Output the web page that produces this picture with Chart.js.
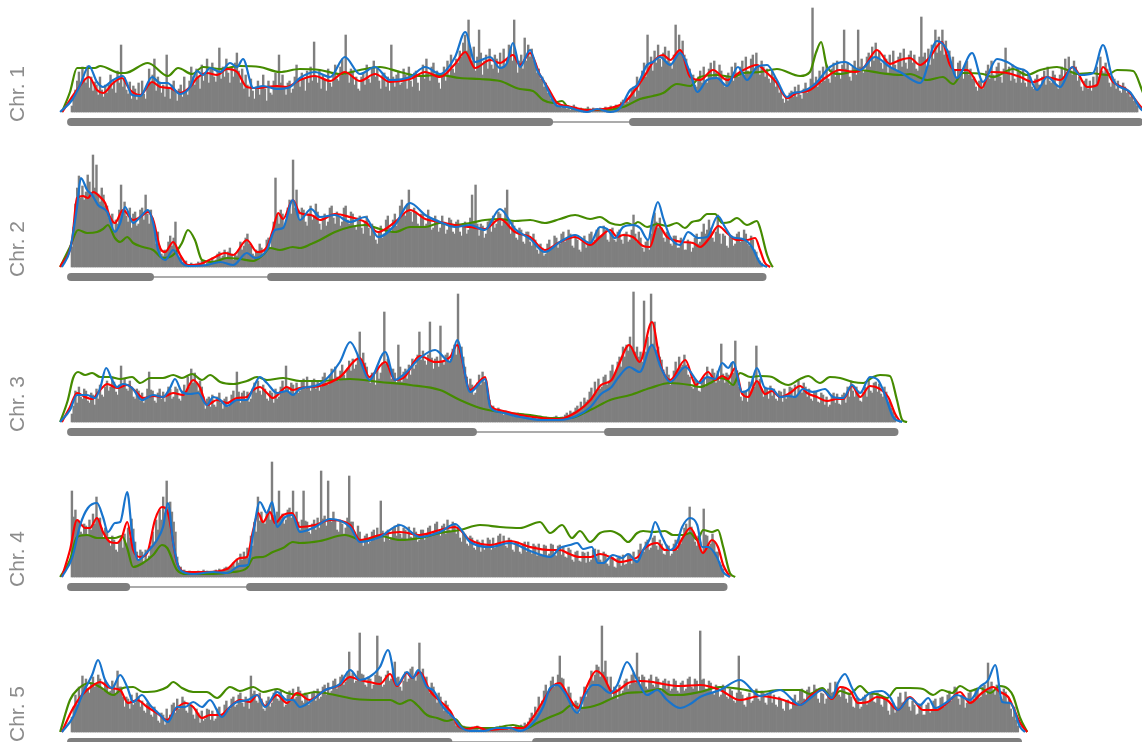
<!DOCTYPE html>
<html>
<head>
<meta charset="utf-8">
<script src="https://cdn.jsdelivr.net/npm/chart.js@4.4.1/dist/chart.umd.min.js"></script>
<style>
  html, body { margin: 0; padding: 0; background: #ffffff; overflow: hidden; }
  #wrap { position: relative; width: 1142px; height: 742px; overflow: hidden; background: #ffffff; }
  #wrap canvas { position: absolute; left: 0; }
</style>
</head>
<body>
<div id="wrap"></div>
<script>
// ---- Chromosome metadata (Mb) ----
const chromNames   = ['Chr. 1', 'Chr. 2', 'Chr. 3', 'Chr. 4', 'Chr. 5'];
const chromLengths = [30.43, 19.70, 23.46, 18.59, 26.98];
const centromeres  = [[13.62, 16.01], [2.25, 5.70], [11.45, 15.30], [1.57, 5.10], [10.75, 13.25]];
const binSizeMb = 0.05;

// ---- Marker counts per 50 kb bin (20 bins per Mb per row) ----
const chr1Bins = [
  6,14,22,31,40,27,45,33,29,46,24,35,21,30,27,17,35,22,15,27,
  19,27,37,23,31,19,41,29,67,25,34,22,18,30,13,26,23,12,29,17,
  31,18,13,27,43,29,37,53,21,35,30,19,27,15,57,24,13,27,31,20,
  11,23,27,15,35,21,17,31,45,35,27,43,35,23,47,31,39,53,29,43,
  49,35,30,41,64,33,45,35,53,39,29,45,35,49,59,41,29,43,23,37,
  27,15,33,21,13,25,31,17,25,37,23,11,31,19,17,31,39,25,57,29,
  37,23,17,29,31,19,23,35,47,33,25,39,33,21,41,29,45,31,70,35,
  29,41,23,37,33,21,43,29,25,39,47,33,31,45,53,37,77,39,29,43,
  41,27,35,23,21,35,39,27,47,33,29,43,51,35,43,31,23,37,39,25,
  35,21,67,35,25,37,41,27,29,43,37,23,45,31,25,39,41,29,21,35,
  47,33,53,39,31,45,49,35,41,29,23,37,45,31,51,37,57,43,39,53,
  49,61,55,69,77,61,92,63,51,65,41,55,82,59,37,51,57,43,63,47,
  43,57,53,39,59,45,63,47,53,67,65,51,92,57,39,51,57,43,74,51,
  67,55,63,51,49,39,43,33,35,25,29,19,21,13,15,9,10,6,8,4,
  6,4,3,5,2,4,7,5,2,1,4,2,1,3,5,3,2,4,3,1,
  2,4,3,1,5,3,4,6,2,4,7,5,6,10,12,8,14,10,16,22,
  25,15,35,21,29,41,49,35,77,43,55,41,61,49,67,53,45,59,65,51,
  61,49,43,57,87,59,77,61,71,57,53,43,43,33,37,27,25,35,41,29,
  45,31,29,43,49,35,51,39,33,47,41,29,25,35,39,29,45,31,49,35,
  35,45,51,37,55,41,39,53,57,43,59,45,37,51,45,35,43,33,29,41,
  35,25,29,19,23,13,9,15,11,19,21,15,25,15,27,17,13,23,29,19,
  23,33,104,29,35,25,41,29,45,31,47,33,29,43,49,35,51,39,33,47,
  82,43,49,35,31,45,51,37,82,45,53,39,41,55,59,45,65,51,69,55,
  61,49,43,57,53,39,57,43,61,47,41,55,59,45,63,49,43,57,61,49,
  57,43,41,55,95,55,59,45,63,47,67,53,82,59,75,61,82,57,71,57,
  61,49,55,41,35,49,51,39,33,47,51,37,43,33,35,25,21,31,33,23,
  29,41,47,33,51,37,31,45,49,35,29,43,64,39,45,31,47,33,29,43,
  39,29,43,29,25,39,35,25,23,33,37,27,25,35,41,27,45,31,29,41,
  37,27,23,37,45,35,53,39,55,41,37,51,45,31,35,25,21,31,33,23,
  31,21,35,25,45,35,55,41,39,49,43,29,25,35,33,23,31,21,19,29,
  25,19,21,15,17,11,10,6
];
const chr2Bins = [
  20,40,63,79,91,69,81,67,75,92,85,71,112,79,102,73,65,79,72,61,
  61,49,43,53,37,47,43,57,82,57,65,51,45,59,39,53,55,41,43,57,
  59,47,72,53,43,57,49,37,23,35,21,13,11,17,15,25,31,21,29,45,
  19,9,11,5,3,6,2,1,4,2,1,3,5,3,6,4,2,4,7,5,
  9,6,7,13,15,9,11,17,9,15,19,13,7,13,11,17,25,17,21,29,
  33,23,21,13,11,17,15,23,19,11,17,27,29,19,33,45,89,53,43,57,
  53,41,47,59,67,53,107,59,77,57,47,59,57,45,41,53,61,47,51,63,
  55,43,37,49,53,41,45,59,61,49,43,55,51,41,45,59,61,47,43,55,
  53,41,37,49,51,39,33,45,51,39,31,43,39,27,23,35,41,29,33,47,
  51,39,35,47,53,41,47,61,67,53,51,63,77,55,45,59,55,43,41,53,
  53,41,43,57,49,37,39,51,47,35,39,51,45,33,37,49,47,35,33,45,
  47,35,31,43,45,33,37,49,72,45,82,43,31,43,41,29,33,45,47,35,
  51,39,43,55,53,41,45,59,77,47,33,45,41,29,27,39,37,25,23,35,
  35,25,21,33,27,17,13,23,19,11,13,23,27,17,19,31,29,19,23,33,
  35,25,27,37,33,21,19,29,27,17,15,25,31,19,23,33,35,25,27,37,
  39,29,31,41,37,27,25,35,39,27,25,35,37,27,23,33,35,25,27,37,
  52,33,25,35,29,19,15,25,27,17,33,43,54,45,39,49,39,29,25,35,
  33,23,21,31,31,19,19,29,27,17,17,27,25,15,19,29,33,23,25,35,
  43,33,37,47,39,29,25,35,52,33,23,33,31,21,19,31,31,21,23,33,
  35,25,27,37,33,23,21,31,27,17,15,9,6,4
];
const chr3Bins = [
  8,16,31,19,35,25,23,33,31,21,19,29,27,17,33,23,37,27,25,35,
  41,31,35,45,40,30,27,37,56,36,43,33,31,41,35,25,23,33,31,21,
  29,19,23,33,50,32,31,21,19,29,33,23,30,20,25,35,33,23,25,35,
  33,23,21,31,37,27,45,35,53,39,49,39,31,41,35,25,13,23,25,15,
  27,17,15,25,29,19,13,23,25,15,17,27,31,21,50,30,19,29,31,21,
  30,20,23,33,39,29,41,31,27,37,33,23,21,31,29,19,33,23,25,35,
  41,31,56,34,29,39,37,27,39,29,31,41,43,33,45,35,31,41,43,33,
  41,31,35,45,49,39,37,47,53,43,55,45,41,51,57,47,43,53,61,51,
  63,53,57,67,90,62,69,59,55,45,39,49,47,37,53,43,49,59,110,58,
  63,53,43,53,49,39,77,55,40,50,53,43,57,47,63,53,57,67,90,62,
  71,61,57,67,100,64,53,63,65,55,96,60,57,67,69,59,63,73,77,67,
  128,72,75,65,55,45,33,43,37,27,29,39,47,37,50,40,41,31,22,12,
  16,12,10,14,12,8,7,11,9,7,6,8,5,7,9,7,6,8,7,5,
  6,4,3,5,5,3,4,6,2,4,5,3,4,2,3,5,6,4,3,5,
  5,7,9,7,11,9,10,14,16,12,20,16,24,20,22,30,34,26,40,30,
  43,33,35,45,47,37,41,51,57,47,50,60,65,55,75,65,77,71,85,75,
  130,70,75,65,70,60,121,70,85,75,128,78,100,72,75,65,62,52,45,55,
  47,37,41,51,60,50,65,55,57,67,57,47,45,35,33,43,41,31,30,40,
  45,35,55,45,43,53,49,39,51,41,78,48,39,49,47,37,59,49,81,51,
  35,25,21,31,30,20,40,30,45,35,76,40,43,33,25,35,33,23,36,26,
  33,23,21,31,30,20,33,23,25,35,34,24,37,27,41,31,29,39,35,25,
  33,23,21,31,30,20,19,29,27,17,25,15,17,27,29,19,28,18,17,27,
  29,19,35,25,41,31,25,35,31,21,20,30,35,25,41,31,29,39,40,30,
  38,28,25,35,30,20,22,14,10,6
];
const chr4Bins = [
  86,60,67,57,55,45,43,53,51,41,57,47,63,53,80,58,59,49,39,49,
  45,35,31,41,37,27,25,35,39,29,43,33,49,39,58,48,35,25,17,27,
  25,15,27,17,21,31,45,35,57,47,67,57,80,64,96,70,75,65,55,45,
  20,10,10,6,7,5,4,6,5,3,3,5,6,4,5,7,4,6,5,3,
  4,6,7,5,8,6,7,9,10,8,9,11,14,10,18,14,23,17,25,19,
  29,19,41,31,55,45,80,56,65,55,53,63,67,57,115,62,55,65,86,58,
  63,53,57,67,69,59,86,60,65,55,47,57,86,56,55,45,43,53,57,47,
  59,49,106,58,61,51,96,58,55,65,57,47,45,55,53,43,49,59,101,55,
  55,45,41,51,45,35,31,41,43,33,35,45,47,37,49,39,76,46,35,45,
  47,37,39,49,51,41,53,43,39,49,47,37,50,40,39,49,45,35,37,47,
  47,37,39,49,51,41,43,53,55,45,41,51,53,43,57,47,45,55,53,43,
  49,39,35,45,43,33,31,41,39,29,27,37,35,25,37,27,29,39,37,27,
  39,29,31,41,43,33,41,31,29,39,37,27,25,35,35,25,23,33,35,25,
  35,25,23,33,31,21,33,23,22,32,31,21,23,33,32,22,21,31,32,22,
  30,20,19,29,27,17,15,25,26,16,15,25,24,14,25,15,17,27,28,18,
  27,17,15,25,23,13,11,21,20,10,9,19,21,11,22,12,13,23,23,13,
  25,15,17,27,33,23,25,35,37,27,29,39,41,31,27,37,33,23,22,32,
  31,21,23,33,37,27,43,33,39,49,53,43,70,50,45,35,31,41,35,25,
  68,42,41,31,33,43,35,25,25,15,12,8
];
const chr5Bins = [
  15,25,37,27,45,35,56,46,53,43,39,49,55,45,47,57,53,43,41,51,
  49,39,41,51,47,37,61,45,45,35,25,35,33,23,37,27,29,39,35,25,
  31,21,19,29,27,17,15,25,21,11,9,19,17,7,23,13,17,27,29,19,
  33,23,25,35,31,21,19,29,27,17,13,23,19,9,21,11,13,23,22,12,
  21,11,13,23,25,15,17,27,31,21,23,33,35,25,27,37,39,29,25,35,
  33,23,56,38,41,31,29,39,33,23,21,31,35,25,29,39,43,33,31,41,
  35,25,27,37,41,31,43,33,35,45,41,31,29,39,37,27,29,39,41,31,
  43,33,35,45,47,37,49,39,41,51,53,43,45,55,57,47,50,60,80,56,
  59,49,51,61,99,58,57,47,45,55,53,43,47,57,96,56,55,45,47,57,
  61,51,53,63,70,54,55,45,41,51,60,50,53,63,65,55,51,61,89,58,
  63,53,55,45,39,49,45,35,29,39,35,25,21,31,27,17,19,13,10,6,
  7,5,4,6,5,3,2,4,5,3,4,6,2,4,3,1,4,2,2,4,
  2,4,5,3,6,4,3,5,4,2,5,3,4,6,3,5,7,5,9,7,
  10,14,19,13,25,19,35,25,31,41,47,37,41,51,55,45,47,57,76,54,
  53,43,35,45,39,29,21,31,29,19,35,25,45,35,41,51,61,51,57,67,
  65,55,106,60,71,55,45,55,35,45,43,33,47,37,41,51,53,43,47,57,
  59,49,79,55,47,57,55,45,43,53,57,47,45,55,53,43,41,51,53,43,
  51,41,43,53,51,41,39,49,51,41,43,53,55,45,43,53,51,41,101,52,
  53,43,41,51,49,39,37,47,45,35,37,47,45,35,33,43,41,31,29,39,
  76,40,37,27,25,35,39,29,31,41,43,33,31,41,39,29,27,37,39,29,
  37,27,25,35,33,23,21,31,32,22,23,33,37,27,31,41,43,33,32,42,
  45,35,37,47,43,33,29,39,38,28,33,43,49,39,40,50,47,37,35,45,
  43,33,29,39,35,25,24,34,33,23,25,35,37,27,29,39,40,30,29,39,
  37,27,25,35,31,21,17,27,29,19,25,35,39,29,30,40,35,25,21,31,
  27,17,18,28,27,17,17,27,29,19,21,31,33,23,24,34,35,25,27,37,
  41,31,35,45,43,33,27,37,34,24,29,39,41,31,33,43,44,34,35,45,
  47,37,69,45,50,40,37,47,45,35,33,43,40,30,33,23,15,25,12,6
];

// ---- Smoothed density tracks: [position Mb, density] ----
const chr1Red = [[-0.25,0],[0.17,22],[0.51,35],[0.74,22],[0.91,19],[1.2,29],[1.45,34],[1.68,22],[1.97,17],[2.31,30],[2.54,25],[2.82,24],[3.11,19],[3.39,25],[3.59,34],[3.87,39],[4.16,37],[4.44,43],[4.73,40],[5.01,25],[5.3,24],[5.58,25],[5.87,26],[6.15,25],[6.52,32],[6.95,36],[7.38,31],[7.8,40],[8.23,31],[8.66,38],[9.09,30],[9.66,33],[10.09,40],[10.51,35],[10.94,48],[11.23,60],[11.51,44],[11.94,52],[12.22,49],[12.59,57],[12.79,47],[13.08,59],[13.36,37],[13.59,24],[13.85,9],[14.13,6],[14.7,2],[15.36,4],[15.64,7],[15.84,12],[16.13,25],[16.41,40],[16.58,50],[16.87,57],[17.07,52],[17.35,62],[17.64,35],[17.92,32],[18.29,42],[18.69,32],[19.06,40],[19.54,47],[19.83,39],[20.11,29],[20.4,14],[20.68,19],[21.05,22],[21.48,34],[21.9,42],[22.34,40],[22.6,45],[22.96,62],[23.33,48],[23.62,52],[23.9,54],[24.19,47],[24.47,55],[24.81,70],[25.04,47],[25.18,42],[25.53,42],[25.95,24],[26.18,40],[26.67,39],[27.04,35],[27.41,30],[27.81,35],[28.18,32],[28.55,45],[28.95,25],[29.23,27],[29.4,45],[29.69,30],[30.09,22],[30.26,15],[30.51,4],[30.74,0]];
const chr1Blue = [[-0.31,0],[0.03,12],[0.26,27],[0.51,46],[0.74,30],[0.91,25],[1.2,32],[1.48,36],[1.74,17],[1.97,16],[2.31,35],[2.54,29],[2.74,29],[3.11,18],[3.39,25],[3.59,41],[3.76,37],[3.96,44],[4.25,40],[4.53,49],[4.73,45],[4.9,53],[5.19,24],[5.47,26],[5.87,23],[6.24,25],[6.52,34],[6.95,40],[7.38,35],[7.8,55],[8.23,38],[8.66,45],[9.09,32],[9.66,35],[10.09,45],[10.51,38],[10.94,55],[11.23,80],[11.51,50],[11.94,55],[12.22,44],[12.42,49],[12.59,69],[12.79,45],[13.08,62],[13.28,42],[13.45,32],[13.65,17],[13.85,6],[14.13,5],[14.42,2],[14.7,0],[14.99,3],[15.36,0],[15.64,4],[15.93,22],[16.13,27],[16.41,47],[16.58,50],[16.78,55],[17.07,47],[17.35,59],[17.64,39],[17.84,20],[18.12,32],[18.4,34],[18.69,26],[19.0,45],[19.26,32],[19.54,45],[19.83,47],[20.11,32],[20.4,15],[20.57,19],[20.77,20],[21.2,28],[21.62,45],[22.05,50],[22.48,42],[22.9,55],[23.33,45],[23.62,40],[24.19,29],[24.67,71],[24.96,62],[25.24,34],[25.67,59],[25.98,30],[26.38,53],[26.67,50],[26.95,44],[27.24,40],[27.52,22],[27.81,35],[28.18,25],[28.52,45],[28.75,37],[29.12,39],[29.4,67],[29.69,32],[30.17,20],[30.51,2],[30.74,0]];
const chr1Green = [[-0.26,0],[-0.03,20],[0.17,44],[0.68,44],[0.83,46],[1.4,39],[1.54,39],[2.19,49],[2.76,36],[3.05,44],[3.45,38],[3.76,45],[4.25,43],[4.81,46],[5.38,45],[5.95,40],[6.52,43],[7.09,42],[7.66,38],[8.23,42],[8.8,45],[9.37,40],[9.94,36],[10.51,37],[11.08,34],[11.65,33],[12.22,31],[12.79,23],[13.16,21],[13.45,12],[13.73,9],[13.99,11],[14.13,6],[14.42,3],[15.07,2],[15.73,5],[16.21,13],[16.58,16],[16.87,19],[17.26,28],[17.64,26],[17.92,35],[18.4,37],[18.86,35],[19.15,39],[19.63,40],[20.11,43],[20.77,36],[21.05,40],[21.23,60],[21.37,70],[21.54,45],[21.9,38],[22.48,42],[23.05,39],[23.62,37],[23.9,38],[24.39,32],[24.84,35],[25.13,28],[25.41,39],[25.98,38],[26.27,35],[26.84,43],[27.24,37],[27.61,42],[28.09,45],[28.38,42],[28.66,38],[29.03,39],[29.52,37],[29.8,42],[30.26,41],[30.51,22],[30.74,0]];

const chr2Red = [[-0.31,0],[0.03,27],[0.17,69],[0.34,71],[0.48,69],[0.63,75],[0.83,70],[0.97,64],[1.11,50],[1.25,44],[1.48,57],[1.77,47],[1.97,50],[2.19,55],[2.34,47],[2.54,19],[2.68,15],[2.91,25],[3.11,12],[3.33,2],[3.68,3],[4.05,9],[4.39,14],[4.62,12],[5.01,27],[5.3,15],[5.58,20],[5.75,37],[5.9,54],[6.04,48],[6.32,67],[6.52,54],[6.84,52],[7.09,47],[7.52,53],[7.95,50],[8.38,45],[8.75,35],[9.23,45],[9.66,57],[10.09,48],[10.51,45],[10.94,42],[11.37,40],[11.79,38],[12.22,48],[12.65,35],[13.08,30],[13.5,17],[13.93,25],[14.36,30],[14.79,22],[15.07,30],[15.36,37],[15.56,30],[15.73,32],[16.01,30],[16.3,21],[16.49,20],[16.72,42],[16.98,30],[17.15,27],[17.43,25],[17.72,24],[17.92,20],[18.21,30],[18.44,41],[18.69,34],[18.97,27],[19.26,27],[19.49,29],[19.63,17],[19.77,4],[19.92,0]];
const chr2Blue = [[-0.26,0],[-0.03,17],[0.17,60],[0.28,89],[0.46,77],[0.6,72],[0.77,62],[1.03,55],[1.25,35],[1.4,44],[1.54,60],[1.77,44],[1.97,50],[2.19,57],[2.34,44],[2.48,17],[2.68,7],[2.91,17],[3.16,4],[3.33,1],[3.87,2],[4.25,5],[4.62,2],[5.01,14],[5.24,9],[5.58,17],[5.81,37],[6.04,39],[6.32,67],[6.52,47],[6.84,58],[7.09,50],[7.52,52],[7.95,45],[8.38,50],[8.75,30],[9.23,42],[9.66,64],[10.09,52],[10.51,45],[10.94,40],[11.37,42],[11.79,37],[12.22,58],[12.65,38],[13.08,28],[13.5,15],[13.93,25],[14.36,32],[14.79,24],[15.07,40],[15.27,38],[15.5,29],[15.73,40],[16.01,42],[16.21,39],[16.44,27],[16.58,50],[16.72,65],[16.87,49],[17.07,30],[17.35,22],[17.58,35],[17.86,29],[18.12,30],[18.43,51],[18.63,40],[18.83,30],[19.14,28],[19.4,20],[19.63,4],[19.83,0]];
const chr2Green = [[-0.31,0],[-0.03,20],[0.2,37],[0.46,34],[0.74,35],[0.91,38],[1.05,42],[1.25,29],[1.4,25],[1.6,30],[1.77,24],[2.05,20],[2.34,17],[2.62,9],[2.91,12],[3.16,24],[3.33,37],[3.53,27],[3.73,7],[4.05,5],[4.44,9],[4.81,8],[5.19,6],[5.47,12],[5.67,19],[5.95,17],[6.32,20],[6.52,19],[6.84,23],[7.09,27],[7.52,35],[7.95,40],[8.38,42],[8.8,38],[9.23,35],[9.66,40],[10.09,40],[10.51,44],[10.94,42],[11.37,44],[11.79,47],[12.22,48],[12.65,46],[13.08,47],[13.5,44],[13.93,48],[14.36,52],[14.79,48],[15.07,50],[15.36,44],[15.64,42],[15.84,44],[16.01,42],[16.15,45],[16.41,40],[16.7,43],[16.98,41],[17.26,44],[17.49,39],[17.69,45],[17.92,47],[18.12,53],[18.35,53],[18.55,44],[18.77,45],[18.97,49],[19.26,42],[19.54,46],[19.63,39],[19.83,12],[19.97,1],[20.0,0]];

const chr3Red = [[-0.26,0],[-0.03,15],[0.17,29],[0.4,25],[0.6,23],[0.83,32],[1.03,38],[1.31,34],[1.6,37],[1.88,29],[2.05,24],[2.34,26],[2.62,25],[2.91,29],[3.19,27],[3.48,42],[3.68,34],[3.87,17],[4.16,22],[4.44,19],[4.73,24],[5.01,25],[5.19,32],[5.38,35],[5.58,29],[5.75,24],[6.15,35],[6.32,32],[6.52,34],[7.09,36],[7.66,45],[8.23,64],[8.5,45],[8.95,60],[9.23,42],[9.5,45],[9.94,66],[10.37,60],[10.8,65],[11.0,77],[11.37,32],[11.8,45],[11.94,17],[12.2,12],[12.8,7],[13.4,4],[13.9,3],[14.4,10],[14.8,22],[15.1,37],[15.4,42],[15.6,57],[15.9,77],[16.2,60],[16.55,100],[16.8,57],[17.07,42],[17.5,62],[17.8,37],[18.15,50],[18.35,42],[18.55,46],[18.72,43],[18.92,54],[19.12,28],[19.29,25],[19.54,41],[19.77,28],[19.97,31],[20.2,25],[20.48,29],[20.77,36],[20.97,29],[21.25,25],[21.54,21],[21.82,23],[22.0,23],[22.25,36],[22.48,25],[22.76,36],[23.05,33],[23.28,25],[23.48,8],[23.62,0]];
const chr3Blue = [[-0.31,0],[-0.03,12],[0.17,27],[0.46,27],[0.68,24],[0.83,34],[1.0,54],[1.17,42],[1.31,35],[1.48,38],[1.74,34],[2.02,22],[2.34,27],[2.62,25],[2.82,34],[2.96,43],[3.16,30],[3.39,28],[3.62,29],[3.87,17],[4.05,25],[4.25,22],[4.44,16],[4.73,22],[5.01,22],[5.19,34],[5.38,45],[5.58,39],[5.87,29],[6.15,31],[6.32,27],[6.52,33],[7.09,38],[7.66,60],[7.95,80],[8.23,62],[8.5,42],[8.95,70],[9.23,42],[9.5,48],[9.94,64],[10.37,72],[10.8,60],[11.0,82],[11.37,30],[11.8,43],[11.94,15],[12.2,10],[12.8,5],[13.4,2],[13.9,2],[14.4,6],[14.8,15],[15.1,28],[15.4,35],[15.6,45],[15.9,55],[16.2,50],[16.55,77],[16.8,55],[17.07,40],[17.5,55],[17.92,39],[18.12,45],[18.35,43],[18.55,59],[18.72,54],[18.86,60],[19.12,30],[19.35,35],[19.54,54],[19.77,34],[19.97,33],[20.2,25],[20.43,26],[20.63,25],[20.85,33],[21.14,30],[21.48,33],[21.71,25],[22.0,24],[22.25,37],[22.48,29],[22.76,45],[22.99,42],[23.19,27],[23.42,5],[23.68,0]];
const chr3Green = [[-0.31,0],[-0.09,22],[0.06,44],[0.2,50],[0.4,47],[0.6,49],[0.83,45],[1.11,45],[1.4,43],[1.74,45],[1.97,39],[2.25,44],[2.62,44],[2.91,47],[3.16,44],[3.45,48],[3.73,42],[3.96,47],[4.25,40],[4.62,38],[5.01,41],[5.3,45],[5.58,42],[6.04,44],[6.52,41],[7.09,41],[7.95,43],[8.8,40],[9.66,37],[10.51,32],[11.08,22],[11.65,14],[12.22,10],[13.08,7],[13.65,4],[14.22,4],[14.79,12],[15.36,22],[15.93,27],[16.5,34],[17.07,39],[17.64,37],[17.92,35],[18.21,39],[18.49,44],[18.69,42],[18.86,37],[19.06,49],[19.35,45],[19.63,46],[19.97,45],[20.2,40],[20.43,37],[20.77,43],[21.0,46],[21.34,39],[21.62,45],[21.91,44],[22.28,40],[22.57,39],[22.85,45],[23.05,47],[23.33,46],[23.53,22],[23.68,2],[23.82,0]];

const chr4Red = [[-0.26,0],[-0.03,27],[0.17,57],[0.4,49],[0.54,49],[0.74,59],[0.91,45],[1.11,35],[1.31,34],[1.45,40],[1.6,55],[1.77,27],[1.97,20],[2.17,24],[2.39,57],[2.59,70],[2.76,64],[3.02,14],[3.3,5],[3.87,5],[4.44,8],[4.81,19],[5.01,20],[5.19,47],[5.33,64],[5.47,55],[5.67,65],[5.81,54],[6.04,62],[6.3,64],[6.52,50],[6.95,52],[7.38,57],[7.95,52],[8.23,37],[8.8,42],[9.37,45],[9.94,42],[10.51,47],[10.94,50],[11.37,37],[11.94,32],[12.5,36],[13.08,30],[13.65,27],[13.93,27],[14.2,23],[14.5,20],[14.8,20],[15.07,23],[15.36,20],[15.64,15],[15.93,17],[16.15,20],[16.35,29],[16.7,34],[16.92,27],[17.2,27],[17.44,40],[17.64,49],[17.84,37],[18.0,24],[18.26,37],[18.43,30],[18.58,12],[18.77,0]];
const chr4Blue = [[-0.26,0],[0.03,19],[0.26,52],[0.48,69],[0.74,74],[0.91,60],[1.05,45],[1.25,54],[1.4,55],[1.6,85],[1.74,44],[1.91,17],[2.17,25],[2.45,37],[2.62,50],[2.76,74],[2.91,34],[3.11,7],[3.48,3],[4.05,5],[4.44,4],[4.81,11],[5.04,12],[5.19,44],[5.38,75],[5.58,64],[5.73,75],[5.87,50],[6.1,60],[6.3,62],[6.52,45],[6.95,50],[7.38,58],[7.95,50],[8.23,35],[8.8,40],[9.37,52],[9.94,40],[10.51,45],[10.94,53],[11.37,35],[11.94,30],[12.5,34],[13.08,26],[13.65,20],[13.93,29],[14.22,32],[14.42,34],[14.59,28],[14.84,30],[15.01,14],[15.16,14],[15.44,22],[15.7,19],[15.87,23],[16.13,15],[16.3,27],[16.5,39],[16.64,55],[16.84,40],[17.07,27],[17.26,34],[17.41,50],[17.64,59],[17.84,52],[17.98,30],[18.15,30],[18.4,20],[18.58,5],[18.77,0]];
const chr4Green = [[-0.31,0],[-0.03,17],[0.17,40],[0.46,42],[0.74,39],[1.03,39],[1.25,39],[1.45,41],[1.6,29],[1.77,10],[2.05,14],[2.34,22],[2.59,32],[2.74,29],[3.02,7],[3.3,3],[4.05,3],[4.62,5],[5.01,9],[5.19,19],[5.47,20],[5.75,25],[6.04,29],[6.32,35],[6.52,34],[7.09,36],[7.8,42],[8.37,36],[8.8,41],[9.37,37],[9.94,39],[10.51,44],[11.08,47],[11.65,52],[12.22,50],[12.79,49],[13.36,55],[13.65,44],[13.99,52],[14.27,39],[14.5,46],[14.79,35],[15.07,44],[15.36,46],[15.64,42],[15.87,35],[16.13,44],[16.3,46],[16.58,45],[16.92,46],[17.15,42],[17.44,42],[17.64,44],[17.84,37],[18.01,47],[18.26,45],[18.43,47],[18.58,30],[18.77,4],[18.92,0]];

const chr5Red = [[-0.26,0],[0.03,22],[0.31,37],[0.6,46],[0.83,50],[1.11,44],[1.4,42],[1.62,29],[1.88,32],[2.17,25],[2.45,19],[2.74,12],[2.96,22],[3.25,29],[3.48,25],[3.73,14],[3.96,17],[4.25,17],[4.53,25],[4.81,32],[5.1,30],[5.3,37],[5.53,26],[5.87,37],[6.15,29],[6.44,39],[6.8,32],[7.24,42],[7.66,47],[7.95,55],[8.23,52],[8.5,50],[8.8,48],[9.09,58],[9.29,46],[9.57,59],[9.71,54],[9.94,60],[10.23,41],[10.51,31],[10.8,21],[11.03,6],[11.28,3],[11.57,5],[11.85,2],[12.22,3],[12.6,4],[12.88,4],[13.13,13],[13.45,31],[13.7,45],[13.93,49],[14.16,36],[14.44,24],[14.7,46],[14.96,61],[15.16,56],[15.44,39],[15.64,43],[15.87,49],[16.21,51],[16.58,50],[16.87,48],[17.35,46],[17.92,47],[18.49,42],[19.06,32],[19.63,36],[20.2,33],[20.77,27],[21.1,37],[21.4,42],[21.68,33],[21.91,45],[22.2,41],[22.42,29],[22.7,30],[22.96,35],[23.25,32],[23.56,22],[23.9,35],[24.27,22],[24.67,22],[24.96,29],[25.33,40],[25.61,29],[25.95,39],[26.27,45],[26.47,40],[26.7,35],[26.84,25],[27.04,9],[27.24,0]];
const chr5Blue = [[-0.26,0],[0.06,15],[0.34,39],[0.6,57],[0.77,72],[0.97,52],[1.17,44],[1.4,57],[1.6,45],[1.77,30],[2.02,37],[2.25,27],[2.54,17],[2.76,10],[3.02,25],[3.25,25],[3.48,30],[3.73,25],[3.96,32],[4.3,15],[4.53,25],[4.73,30],[5.04,32],[5.3,37],[5.53,25],[5.87,40],[6.15,32],[6.32,32],[6.52,25],[6.8,30],[7.24,42],[7.66,48],[7.95,62],[8.23,52],[8.5,55],[8.8,65],[9.03,82],[9.29,47],[9.57,60],[9.74,54],[9.89,62],[10.14,45],[10.31,42],[10.6,25],[10.88,15],[11.14,4],[11.37,1],[11.74,1],[12.14,4],[12.51,4],[12.79,1],[13.16,9],[13.45,25],[13.65,44],[13.85,47],[14.07,39],[14.42,19],[14.64,37],[14.87,47],[15.01,47],[15.36,39],[15.56,47],[15.84,70],[16.13,52],[16.41,37],[16.7,42],[16.98,32],[17.35,24],[17.64,28],[17.92,35],[18.49,42],[19.06,52],[19.63,36],[20.2,42],[20.77,27],[21.1,35],[21.4,42],[21.68,34],[21.85,49],[22.05,58],[22.25,44],[22.48,32],[22.76,39],[23.1,41],[23.33,35],[23.56,22],[23.9,34],[24.19,27],[24.42,34],[24.62,24],[24.96,30],[25.24,37],[25.61,32],[25.89,45],[26.13,52],[26.33,67],[26.53,30],[26.76,29],[27.04,5],[27.18,0]];
const chr5Green = [[-0.31,0],[-0.03,32],[0.2,43],[0.54,49],[0.83,45],[1.2,37],[1.48,44],[1.77,45],[2.05,40],[2.45,41],[2.74,45],[2.91,50],[3.16,44],[3.48,40],[3.87,40],[4.16,34],[4.53,45],[4.81,41],[5.19,45],[5.47,40],[5.87,43],[6.15,39],[6.52,37],[6.95,40],[7.52,37],[8.09,33],[8.8,32],[9.09,32],[9.37,28],[9.66,32],[9.86,27],[10.14,17],[10.43,14],[10.71,11],[10.94,13],[11.17,5],[11.57,4],[12.02,4],[12.59,7],[12.99,4],[13.28,9],[13.65,15],[13.99,20],[14.27,27],[14.5,24],[14.79,25],[15.07,28],[15.44,34],[15.84,39],[16.3,40],[16.78,43],[17.07,37],[17.35,37],[17.92,40],[18.49,45],[19.06,43],[19.63,40],[20.2,42],[20.77,42],[21.05,38],[21.4,44],[21.68,34],[21.91,41],[22.19,38],[22.48,46],[22.71,39],[22.96,38],[23.25,34],[23.53,44],[23.9,44],[24.27,43],[24.56,37],[24.81,42],[25.1,39],[25.33,46],[25.61,41],[25.9,44],[26.18,39],[26.47,46],[26.7,43],[26.84,36],[27.04,14],[27.24,0]];

const binsByChrom  = [chr1Bins, chr2Bins, chr3Bins, chr4Bins, chr5Bins];
const redByChrom   = [chr1Red, chr2Red, chr3Red, chr4Red, chr5Red];
const blueByChrom  = [chr1Blue, chr2Blue, chr3Blue, chr4Blue, chr5Blue];
const greenByChrom = [chr1Green, chr2Green, chr3Green, chr4Green, chr5Green];

// ---- Layout & style ----
const PX_PER_MB = 35.1;
const X_MIN = -0.4;
const PLOT_LEFT = 57;
const CANVAS_W = 1142, CANVAS_H = 160;
const Y_MIN = -20, Y_MAX = 140;          // 1 density unit per pixel
const IDEO_Y = -10;                      // ideogram track below the baseline
const panelBaselines = [112, 267, 422, 577, 732];
const COL_BAR = '#7f7f7f', COL_RED = '#ff0000', COL_BLUE = '#1874cd', COL_GREEN = '#458b00';
const COL_CEN = '#ababab';

const chromLabel = {
  id: 'chromLabel',
  afterDraw(chart, args, opts) {
    const ctx = chart.ctx;
    const y = chart.scales.y.getPixelForValue(18);
    ctx.save();
    ctx.translate(18, y);
    ctx.rotate(-Math.PI / 2);
    ctx.font = '21px "Liberation Sans", Arial, sans-serif';
    ctx.fillStyle = '#8c8c8c';
    ctx.textAlign = 'center';
    ctx.textBaseline = 'middle';
    ctx.fillText(opts.text, 0, 0);
    ctx.restore();
  }
};

const toXY = arr => arr.map(([x, y]) => ({ x, y }));
const lineSet = (arr, color, order) => ({
  type: 'line', data: toXY(arr), borderColor: color, borderWidth: 2.2,
  pointRadius: 0, fill: false, cubicInterpolationMode: 'monotone', order
});
const ideoSet = (from, to, width, color, order) => ({
  type: 'line', data: [{ x: from, y: IDEO_Y }, { x: to, y: IDEO_Y }],
  borderColor: color, borderWidth: width, borderCapStyle: 'round',
  pointRadius: 0, fill: false, order
});

const wrap = document.getElementById('wrap');
chromNames.forEach((name, i) => {
  const cv = document.createElement('canvas');
  cv.width = CANVAS_W; cv.height = CANVAS_H;
  cv.style.width = CANVAS_W + 'px'; cv.style.height = CANVAS_H + 'px';
  cv.style.top = (panelBaselines[i] - Y_MAX) + 'px';
  wrap.appendChild(cv);

  const bins = binsByChrom[i].map((v, k) => ({ x: (k + 0.5) * binSizeMb, y: v }));
  const [c0, c1] = centromeres[i];
  const len = chromLengths[i];

  new Chart(cv, {
    type: 'bar',
    data: {
      datasets: [
        lineSet(blueByChrom[i], COL_BLUE, 1),
        lineSet(redByChrom[i], COL_RED, 2),
        lineSet(greenByChrom[i], COL_GREEN, 3),
        ideoSet(0, c0, 8, COL_BAR, 5),
        ideoSet(c1, len, 8, COL_BAR, 5),
        ideoSet(c0, c1, 2, COL_CEN, 6),
        { type: 'bar', data: bins, backgroundColor: COL_BAR, borderWidth: 0,
          barPercentage: 1, categoryPercentage: 1, grouped: false, order: 10 }
      ]
    },
    options: {
      responsive: false, animation: false, devicePixelRatio: 1, events: [],
      layout: { padding: { left: PLOT_LEFT, right: 0, top: 0, bottom: 0 } },
      plugins: { legend: { display: false }, tooltip: { enabled: false }, chromLabel: { text: name } },
      scales: {
        x: { type: 'linear', offset: false, grace: 0,
             min: X_MIN, max: X_MIN + (CANVAS_W - PLOT_LEFT) / PX_PER_MB, display: false },
        y: { min: Y_MIN, max: Y_MAX, display: false }
      }
    },
    plugins: [chromLabel]
  });
});
</script>
</body>
</html>
